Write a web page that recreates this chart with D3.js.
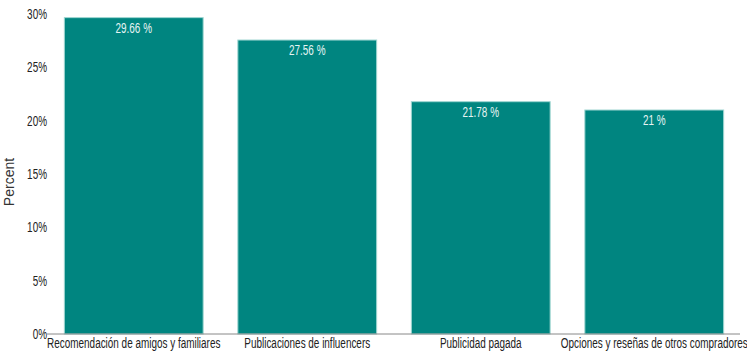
<!DOCTYPE html>
<html>
<head>
<meta charset="utf-8">
<script src="https://cdn.jsdelivr.net/npm/d3@7"></script>
<style>
  body { margin: 0; background: #fff; }
  text { font-family: "Liberation Sans", Arial, sans-serif; }
</style>
</head>
<body>
<div id="chart"></div>
<script>
const categories = ["Recomendación de amigos y familiares", "Publicaciones de influencers", "Publicidad pagada", "Opciones y reseñas de otros compradores"]
const values = [29.66, 27.56, 21.78, 21]
const valueLabels = ["29.66 %", "27.56 %", "21.78 %", "21 %"]
const yTicks = [0, 5, 10, 15, 20, 25, 30]

const width = 747, height = 352
const margin = { left: 47, right: 6, top: 14, bottom: 18 }
// narrow look of the original font
const squeeze = 0.71

const svg = d3.select("#chart")
    .append("svg")
    .attr("width", width)
    .attr("height", height)

const x = d3.scaleBand()
    .domain(categories)
    .range([margin.left, width - margin.right])
    .paddingInner(0.2)
    .paddingOuter(0.1)

const y = d3.scaleLinear()
    .domain([0, 30])
    .range([height - margin.bottom, margin.top])

const narrowText = (g, px, py) => g.append("text")
    .attr("transform", "translate(" + px + "," + py + ") scale(" + squeeze + ",1)")

// y tick labels
yTicks.forEach(d => {
    narrowText(svg, margin.left, y(d))
        .attr("dy", "0.35em")
        .attr("text-anchor", "end")
        .attr("font-size", 14)
        .attr("fill", "#222")
        .text(d + "%")
})

// y title
svg.append("text")
    .attr("transform", "rotate(-90)")
    .attr("x", -182)
    .attr("y", 14)
    .attr("text-anchor", "middle")
    .attr("font-size", 14)
    .attr("fill", "#333")
    .text("Percent")

// bars
svg.append("g")
    .selectAll("rect")
    .data(values)
    .enter()
    .append("rect")
    .attr("x", (d, i) => x(categories[i]))
    .attr("y", d => y(d))
    .attr("width", x.bandwidth())
    .attr("height", d => y(0) - y(d))
    .attr("fill", "#008580")
    .attr("stroke", "#9fd6d2")
    .attr("stroke-width", 1)

// value labels
values.forEach((d, i) => {
    narrowText(svg, x(categories[i]) + x.bandwidth() / 2, y(d) + 15)
        .attr("text-anchor", "middle")
        .attr("font-size", 14)
        .attr("fill", "#e6f4f3")
        .text(valueLabels[i])
})

// baseline
svg.append("line")
    .attr("x1", margin.left)
    .attr("x2", width - 7)
    .attr("y1", y(0))
    .attr("y2", y(0))
    .attr("stroke", "#888")
    .attr("stroke-width", 1)

// x labels
categories.forEach(d => {
    narrowText(svg, x(d) + x.bandwidth() / 2, y(0) + 14)
        .attr("text-anchor", "middle")
        .attr("font-size", 14)
        .attr("fill", "#222")
        .text(d)
})
</script>
</body>
</html>
